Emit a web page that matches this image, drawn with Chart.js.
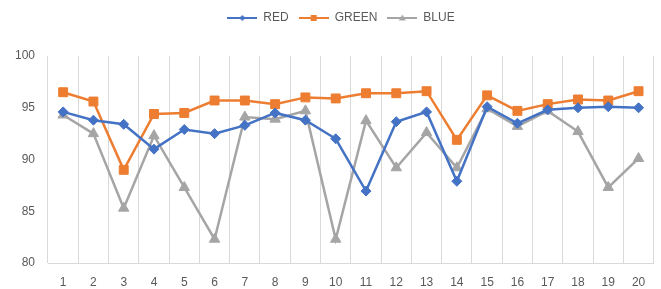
<!DOCTYPE html>
<html>
<head>
<meta charset="utf-8">
<script src="https://cdn.jsdelivr.net/npm/chart.js@4"></script>
<style>
  html, body { margin: 0; padding: 0; background: #fff; }
  #wrap { width: 661px; height: 289px; }
</style>
</head>
<body>
<div id="wrap"><canvas id="chart"></canvas></div>
<script>
const labels = ['1','2','3','4','5','6','7','8','9','10','11','12','13','14','15','16','17','18','19','20']
const red = [94.6, 93.8, 93.4, 91.0, 92.9, 92.5, 93.3, 94.5, 93.8, 92.0, 86.95, 93.65, 94.6, 87.9, 95.1, 93.5, 94.8, 95.0, 95.1, 95.0]
const green = [96.5, 95.6, 89.0, 94.4, 94.5, 95.7, 95.7, 95.35, 96.0, 95.9, 96.4, 96.4, 96.6, 91.9, 96.2, 94.7, 95.35, 95.8, 95.7, 96.6]
const blue = [94.3, 92.5, 85.3, 92.3, 87.3, 82.3, 94.1, 93.9, 94.7, 82.3, 93.75, 89.2, 92.6, 89.2, 94.9, 93.2, 94.7, 92.7, 87.3, 90.1]
const yTicks = [80, 85, 90, 95, 100]

// little line+marker pictures for the legend, like Excel does
function legend_icon(color, shape) {
    var c = document.createElement('canvas')
    c.width = 30
    c.height = 12
    var ctx = c.getContext('2d')
    ctx.strokeStyle = color
    ctx.fillStyle = color
    ctx.lineWidth = 2
    ctx.beginPath()
    ctx.moveTo(0, 6)
    ctx.lineTo(30, 6)
    ctx.stroke()
    ctx.beginPath()
    if (shape === 'diamond') {
        ctx.moveTo(15, 3); ctx.lineTo(18, 6); ctx.lineTo(15, 9); ctx.lineTo(12, 6)
    } else if (shape === 'square') {
        ctx.rect(12, 3, 6, 6)
    } else {
        ctx.moveTo(15, 2.5); ctx.lineTo(18.5, 8.5); ctx.lineTo(11.5, 8.5)
    }
    ctx.closePath()
    ctx.fill()
    return c
}

// more room under the legend, and nudge it a bit to the right
const legendGap = {
    id: 'legendGap',
    beforeInit(chart) {
        const fit = chart.legend.fit
        chart.legend.fit = function () {
            fit.bind(chart.legend)()
            this.height += 22
        }
    },
    afterLayout(chart) {
        chart.legend.left += 14
        chart.legend.right += 14
    }
}

const gridColor = '#d9d9d9'
const textColor = '#595959'
const font = { family: 'Liberation Sans', size: 12 }

function series(label, data, color, style, radius, shape) {
    return {
        label: label,
        data: data,
        borderColor: color,
        backgroundColor: color,
        borderWidth: 2.5,
        pointStyle: style,
        pointRadius: radius,
        pointHoverRadius: radius,
        pointBorderWidth: 1,
        tension: 0,
        legendIcon: legend_icon(color, shape)
    }
}

new Chart(document.getElementById('chart'), {
    type: 'line',
    data: {
        labels: labels,
        datasets: [
            series('RED', red, '#4472C4', 'rectRot', 5, 'diamond'),
            series('GREEN', green, '#ED7D31', 'rect', 6.3, 'square'),
            series('BLUE', blue, '#A5A5A5', 'triangle', 6, 'triangle')
        ]
    },
    options: {
        responsive: true,
        maintainAspectRatio: false,
        animation: false,
        layout: { padding: { top: 2, right: 7, bottom: 0, left: 0 } },
        plugins: {
            tooltip: { enabled: false },
            legend: {
                position: 'top',
                labels: {
                    usePointStyle: true,
                    pointStyleWidth: 30,
                    padding: 10,
                    color: textColor,
                    font: { family: 'Liberation Sans', size: 12 },
                    generateLabels(chart) {
                        return chart.data.datasets.map((ds, i) => ({
                            text: ds.label,
                            pointStyle: ds.legendIcon,
                            fillStyle: ds.borderColor,
                            strokeStyle: ds.borderColor,
                            lineWidth: 0,
                            fontColor: textColor,
                            datasetIndex: i
                        }))
                    }
                }
            }
        },
        scales: {
            x: {
                offset: true,
                afterFit(scale) {
                    scale.height = 26
                },
                grid: { display: true, offset: true, color: gridColor, drawTicks: false },
                border: { display: true, color: gridColor },
                ticks: { color: textColor, font: font, padding: 12, maxRotation: 0, autoSkip: false }
            },
            y: {
                min: 80,
                max: 100,
                afterBuildTicks(scale) {
                    scale.ticks = yTicks.map(v => ({ value: v }))
                },
                afterFit(scale) {
                    scale.width = 48
                },
                grid: { display: false, drawTicks: false },
                border: { display: false },
                ticks: { color: textColor, font: font, padding: 13 }
            }
        }
    },
    plugins: [legendGap]
})
</script>
</body>
</html>
